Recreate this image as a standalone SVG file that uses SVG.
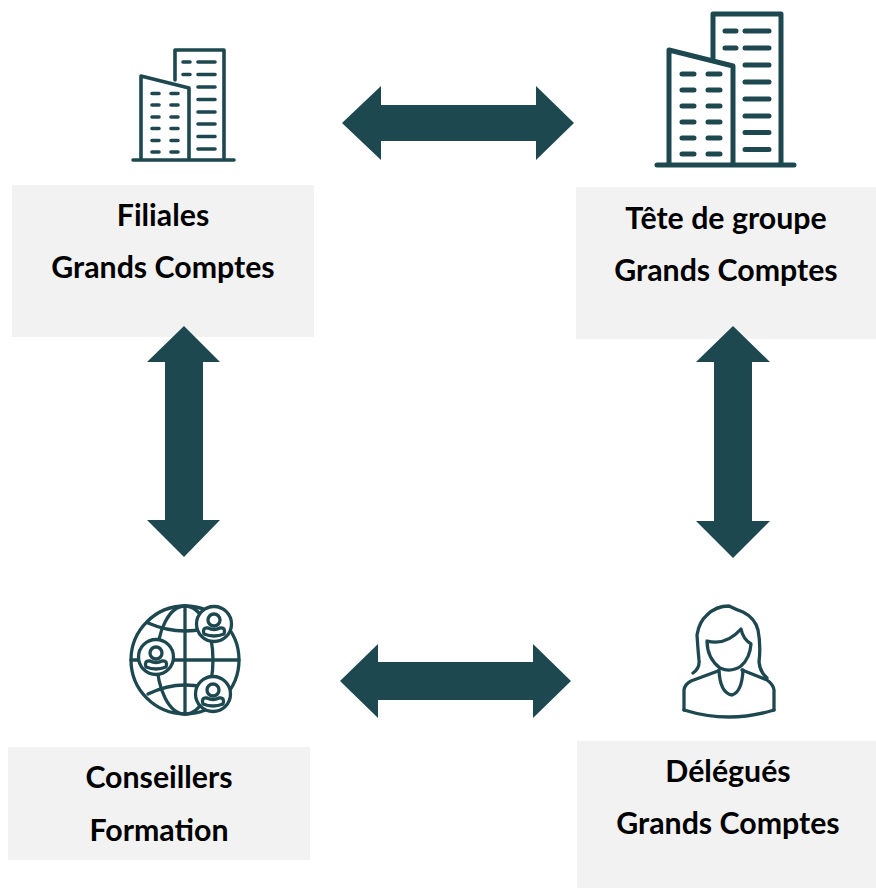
<svg xmlns="http://www.w3.org/2000/svg" width="876" height="888" viewBox="0 0 876 888">
<style>
.box{fill:#f2f2f2}
.t{font-family:"Lato","Liberation Sans",sans-serif;font-weight:700;font-size:30.300px;fill:#000;text-anchor:middle}
.arrow{fill:#1e4850}
.ic{fill:none;stroke:#1e4850;stroke-linecap:round;stroke-linejoin:round}
.wf{fill:#fff}
</style>
<rect width="876" height="888" fill="#fff"/>
<g id="filiales">
<rect class="box" x="12" y="185" width="302" height="152"/>
<path class="ic" stroke-width="3.600" d="M133 160H234M175 80V50H224V160M141 160V76L189 88V160"/>
<path class="ic" stroke-width="3.600" d="M152 93.500H159M171 93.500H178M152 105H159M171 105H178M152 117H159M171 117H178M152 128.500H159M171 128.500H178M152 140.500H159M171 140.500H178M152 152H159M171 152H178M183 62H190M198 62H215M183 74.500H190M198 74.500H215M198 87H215M198 99.500H215M198 112H215M198 124H215M198 136.500H215M198 149H215"/>
<text class="t" x="163" y="226">Filiales</text>
<text class="t" x="163" y="278">Grands Comptes</text>
</g>
<g id="tete-de-groupe">
<rect class="box" x="576" y="187" width="300" height="152"/>
<path class="ic" stroke-width="5" d="M657 165H794M713 58V14H781V165M669 165V50L733 66V165"/>
<path class="ic" stroke-width="5" d="M682 74H694M708 74H720M682 90H694M708 90H720M682 106H694M708 106H720M682 122H694M708 122H720M682 138H694M708 138H720M682 154H694M708 154H720M725 31H736M745 31H769M725 48H736M745 48H769M745 65H769M745 82H769M745 99H769M745 116H769M745 132.500H769M745 149.500H769"/>
<text class="t" x="726" y="229">Tête de groupe</text>
<text class="t" x="726" y="281">Grands Comptes</text>
</g>
<g id="conseillers">
<rect class="box" x="8" y="747" width="302" height="113"/>
<g class="ic" stroke-width="3.300">
<circle cx="185" cy="660" r="54"/>
<path d="M131 660H239M185 606V714"/>
<ellipse cx="185" cy="660" rx="28" ry="54"/>
<path d="M148 623Q185 639 222 623M148 694Q185 676 222 694"/>
<circle class="wf" cx="214" cy="624" r="17.500"/>
<circle class="wf" cx="156" cy="657" r="17.500"/>
<circle class="wf" cx="213" cy="694" r="17.500"/>
<circle cx="214" cy="620" r="6"/><path d="M204 634Q202 627 208 628Q214 631 220 628Q226 627 224 634Q214 638 204 634Z"/>
<circle cx="156" cy="653" r="6"/><path d="M146 667Q144 660 150 661Q156 664 162 661Q168 660 166 667Q156 671 146 667Z"/>
<circle cx="213" cy="690" r="6"/><path d="M203 704Q201 697 207 698Q213 701 219 698Q225 697 223 704Q213 708 203 704Z"/>
</g>
<text class="t" x="159" y="788">Conseillers</text>
<text class="t" x="159" y="841">Formation</text>
</g>
<g id="delegues">
<rect class="box" x="577" y="741" width="299" height="147"/>
<g class="ic" stroke-width="3.300">
<path d="M684 710V690Q685 684 691 681L718 671M774 710V690Q773 684 767 680L742 670"/>
<path d="M684 710Q729 724 774 710"/>
<path d="M707 641Q726 646 741 629Q743 639 751 644Q750 658 741 666Q731 673 720 668Q707 658 707 641Z"/>
<path d="M719 670Q720 693 732 695Q742 692 743 670"/>
<path d="M693 673Q700 668 699 660Q698 650 697 635Q699 622 707 615Q716 606 729 606Q737 610 743 612Q755 618 758 630Q761 645 759 662Q760 672 767 678"/>
</g>
<text class="t" x="728" y="782">Délégués</text>
<text class="t" x="728" y="834">Grands Comptes</text>
</g>
<g id="connectors">
<polygon class="arrow" points="342,123 381,86 381,105 536,105 536,86 574,123 536,160 536,141 381,141 381,160"/>
<polygon class="arrow" points="340,681 378,644 378,662 533,662 533,644 571,681 533,718 533,700 378,700 378,718"/>
<polygon class="arrow" points="184,326 220,362 203,362 203,520 220,520 184,557 147,520 165,520 165,362 147,362"/>
<polygon class="arrow" points="733,326 770,362 752,362 752,521 770,521 733,558 696,521 714,521 714,362 696,362"/>
</g>
</svg>
